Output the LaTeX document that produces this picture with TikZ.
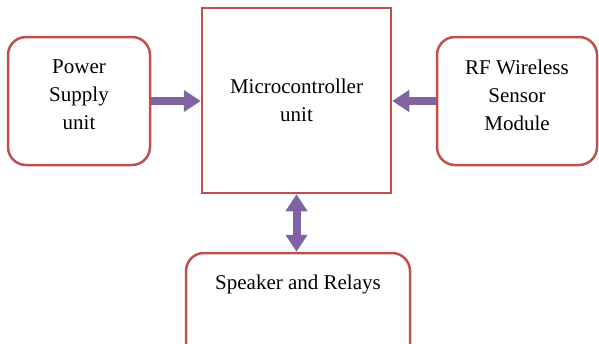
\documentclass[tikz,border=0pt]{standalone}
\usepackage{fontspec}
\setmainfont{Liberation Serif}
\usepackage{tikz}
\usetikzlibrary{arrows.meta}

\definecolor{boxred}{HTML}{C0504D}
\definecolor{arrowpurple}{HTML}{8064A2}

\begin{document}
\begin{tikzpicture}[x = 1pt, y = -1pt,
    >={Triangle[length = 17pt, width = 21pt]},
    blockbox/.style = {draw = boxred, line width = 2.5pt, align = center,
        font = \fontsize{21}{28}\selectfont, inner sep = 0pt},
    roundbox/.style = {blockbox, rounded corners = 18pt},
    link/.style = {arrowpurple, line width = 8pt}]
    \useasboundingbox (0, 0) rectangle (599, 343);

    %%%%%%%%%% blocks %%%%%%%%%%%%%%%%%%%
    \node [blockbox, minimum width = 189pt, minimum height = 185pt]
        (micro) at (296.5, 100.5) {Microcontroller\\unit};
    \node [roundbox, minimum width = 142pt, minimum height = 128pt, text depth = 12pt]
        (power) at (79, 101) {Power\\Supply\\unit};
    \node [roundbox, minimum width = 160pt, minimum height = 128pt, text depth = 12pt]
        (rf) at (517, 101) {RF Wireless\\Sensor\\Module};
    \node [roundbox, minimum width = 224pt, minimum height = 112pt]
        (spk) at (298, 309) {};
    \node [font = \fontsize{21}{28}\selectfont, anchor = base, inner sep = 0pt]
        (spklabel) at (298, 289) {Speaker and Relays};

    %%%%%%%%%% links %%%%%%%%%%%%%%%%%%%
    \draw [link, ->] (power.east)  --  (power.east -| micro.west);
    \draw [link, ->] (rf.west)  --  (rf.west -| micro.east);
    \draw [link, <->] (micro.south)  --  (micro.south |- spk.north);
\end{tikzpicture}
\end{document}
